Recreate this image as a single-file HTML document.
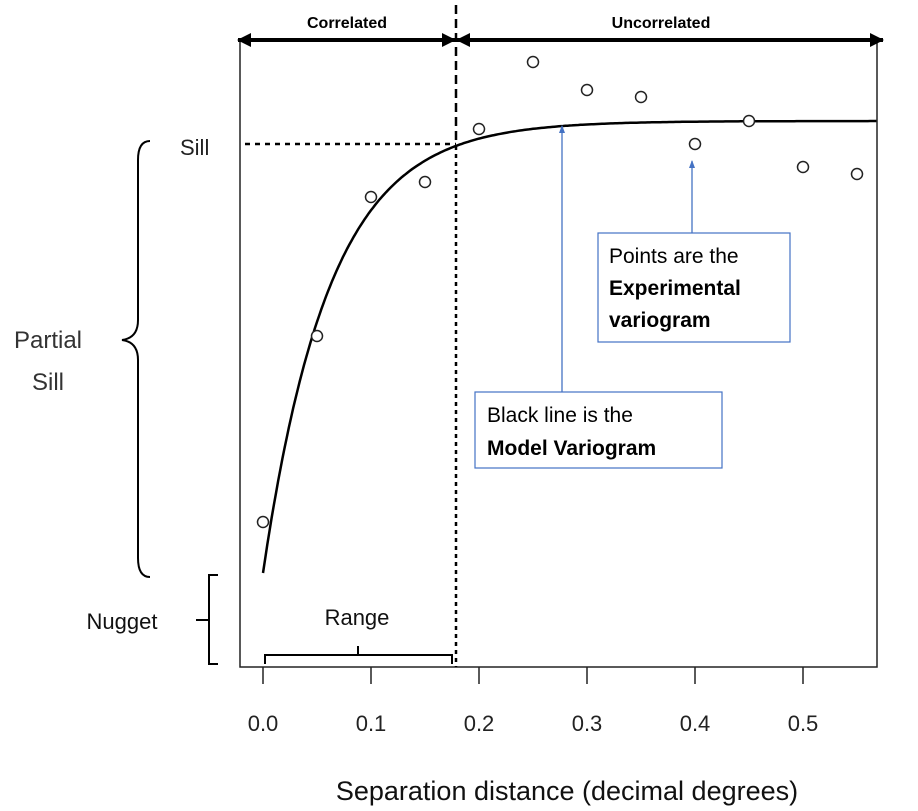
<!DOCTYPE html>
<html><head><meta charset="utf-8"><style>
body{margin:0;background:#fff}
svg{display:block;font-family:"Liberation Sans",sans-serif}
</style></head><body>
<svg id="chart" width="918" height="811" viewBox="0 0 918 811" xmlns="http://www.w3.org/2000/svg">
<defs>
<marker id="ah" markerWidth="14" markerHeight="14" refX="13" refY="7" orient="auto-start-reverse" markerUnits="userSpaceOnUse"><path d="M0,0 L14,7 L0,14 z" fill="#000"/></marker>
<marker id="bh" markerWidth="8" markerHeight="8" refX="7" refY="4" orient="auto" markerUnits="userSpaceOnUse"><path d="M0,1 L8,4 L0,7 z" fill="#4472c4"/></marker>
</defs>
<rect x="240" y="40" width="637" height="627" fill="none" stroke="#222" stroke-width="1.5"/>
<g id="ticks"></g>
<text x="567" y="800" font-size="27" text-anchor="middle" fill="#111">Separation distance (decimal degrees)</text>
<line x1="456" y1="5" x2="456" y2="146" stroke="#000" stroke-width="2.5" stroke-dasharray="9,5"/>
<line x1="456" y1="146" x2="456" y2="667" stroke="#000" stroke-width="2.5" stroke-dasharray="4,4"/>
<line x1="245" y1="144" x2="456" y2="144" stroke="#000" stroke-width="2.5" stroke-dasharray="5,5"/>
<line x1="238" y1="40" x2="455" y2="40" stroke="#000" stroke-width="4" marker-start="url(#ah)" marker-end="url(#ah)"/>
<line x1="457" y1="40" x2="883" y2="40" stroke="#000" stroke-width="4" marker-start="url(#ah)" marker-end="url(#ah)"/>
<text x="347" y="28" font-size="16" font-weight="bold" text-anchor="middle">Correlated</text>
<text x="661" y="28" font-size="16" font-weight="bold" text-anchor="middle">Uncorrelated</text>
<path id="model" fill="none" stroke="#000" stroke-width="2.5"/>
<g id="pts"></g>
<text x="180" y="155" font-size="22" fill="#222">Sill</text>
<path d="M150,141 Q138,141 138,160 L138,320 Q138,338 122,340 Q138,342 138,360 L138,558 Q138,577 150,577" fill="none" stroke="#000" stroke-width="2"/>
<text x="48" y="348" font-size="24" text-anchor="middle" fill="#333">Partial</text>
<text x="48" y="390" font-size="24" text-anchor="middle" fill="#333">Sill</text>
<path d="M218,575 L209,575 L209,664 L218,664 M209,620 L196,620" fill="none" stroke="#000" stroke-width="2"/>
<text x="122" y="629" font-size="22" text-anchor="middle" fill="#111">Nugget</text>
<path d="M265,664 L265,655 L452,655 L452,664 M358,655 L358,646" fill="none" stroke="#000" stroke-width="2"/>
<text x="357" y="625" font-size="22" text-anchor="middle" fill="#111">Range</text>
<line x1="562" y1="392" x2="562" y2="126" stroke="#4472c4" stroke-width="1.3" marker-end="url(#bh)"/>
<line x1="692" y1="233" x2="692" y2="161" stroke="#4472c4" stroke-width="1.3" marker-end="url(#bh)"/>
<rect x="598" y="233" width="192" height="109" fill="#fff" stroke="#4472c4" stroke-width="1.2"/>
<text font-size="21" fill="#000">
<tspan x="609" y="263">Points are the</tspan><tspan x="609" y="295" font-weight="bold">Experimental</tspan><tspan x="609" y="327" font-weight="bold">variogram</tspan></text>
<rect x="475" y="392" width="247" height="76" fill="#fff" stroke="#4472c4" stroke-width="1.2"/>
<text font-size="21" fill="#000">
<tspan x="487" y="422">Black line is the</tspan><tspan x="487" y="455" font-weight="bold">Model Variogram</tspan></text>
</svg>
<script>
const distances=[0,0.05,0.1,0.15,0.2,0.25,0.3,0.35,0.4,0.45,0.5,0.55];
const semivariance=[1.45,3.31,4.70,4.85,5.38,6.05,5.77,5.70,5.23,5.46,5.00,4.93];
const tickValues=[0,0.1,0.2,0.3,0.4,0.5];
const tickLabels=["0.0","0.1","0.2","0.3","0.4","0.5"];
const nugget=0.94, sill=5.46, effRange=0.185, maxDist=0.5685;
const NS="http://www.w3.org/2000/svg";
const xs=v=>263+v*1080;
const ys=v=>667-v*100;
const tg=document.getElementById('ticks');
tickValues.forEach((t,i)=>{
 const l=document.createElementNS(NS,'line');
 l.setAttribute('x1',xs(t));l.setAttribute('x2',xs(t));l.setAttribute('y1',667);l.setAttribute('y2',684);
 l.setAttribute('stroke','#222');l.setAttribute('stroke-width','1.5');
 
 
 tg.appendChild(l);
 const tx=document.createElementNS(NS,'text');
 tx.setAttribute('x',xs(t));tx.setAttribute('y',731);tx.setAttribute('font-size','22');tx.setAttribute('text-anchor','middle');tx.setAttribute('fill','#222');
 tx.textContent=tickLabels[i];
 
 
 tg.appendChild(tx);
});
let d='';
for(let h=0;h<=maxDist;h+=0.002){
 const v=nugget+(sill-nugget)*(1-Math.exp(-3*h/effRange));
 d+=(d?'L':'M')+xs(h).toFixed(1)+','+ys(v).toFixed(1);
}
document.getElementById('model').setAttribute('d',d);
const pg=document.getElementById('pts');
distances.forEach((h,i)=>{
 const c=document.createElementNS(NS,'circle');
 c.setAttribute('cx',xs(h));c.setAttribute('cy',ys(semivariance[i]));c.setAttribute('r',5.5);
 c.setAttribute('fill','#fff');c.setAttribute('stroke','#222');c.setAttribute('stroke-width','1.5');
 
 
 pg.appendChild(c);
});
</script>
</body></html>
